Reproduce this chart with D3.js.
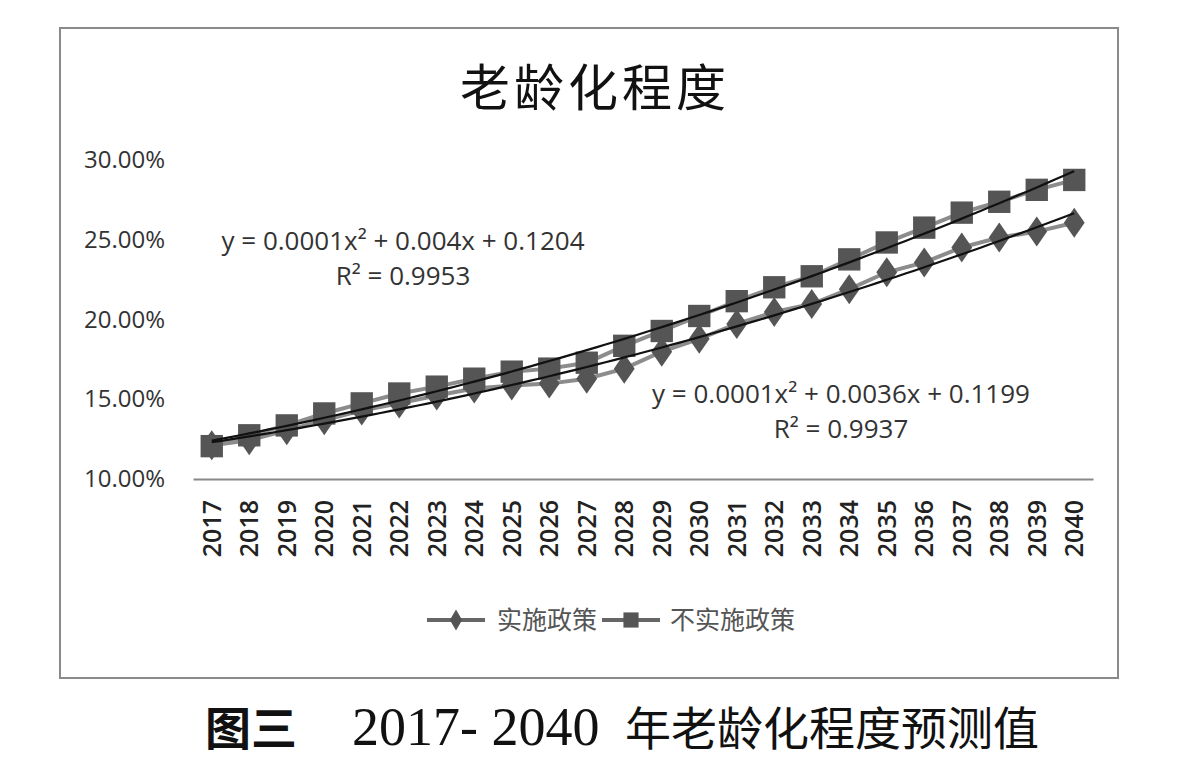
<!DOCTYPE html>
<html>
<head>
<meta charset="utf-8">
<script src="https://cdn.jsdelivr.net/npm/d3@7"></script>
<style>
  body { margin: 0; background: #fff; }
  svg { display: block; }
</style>
</head>
<body>
<div id="chart"></div>
<script>
const width = 1200;
const height = 784;
const margin = { top: 160, right: 107, bottom: 303, left: 193 };

// chart data
const years = ["2017", "2018", "2019", "2020", "2021", "2022", "2023", "2024", "2025", "2026", "2027", "2028",
  "2029", "2030", "2031", "2032", "2033", "2034", "2035", "2036", "2037", "2038", "2039", "2040"];
const withPolicy = [12.12, 12.43, 13.05, 13.68, 14.30, 14.74, 15.23, 15.67, 15.86, 15.98, 16.29, 16.92,
  17.98, 18.79, 19.72, 20.47, 20.97, 21.90, 22.96, 23.58, 24.52, 25.14, 25.51, 26.07];
const withoutPolicy = [12.06, 12.74, 13.36, 14.11, 14.74, 15.36, 15.79, 16.29, 16.73, 16.92, 17.29, 18.35,
  19.28, 20.22, 21.15, 22.02, 22.71, 23.77, 24.83, 25.76, 26.70, 27.38, 28.13, 28.75];
const yTicks = [10, 15, 20, 25, 30];
const seriesNames = ["实施政策", "不实施政策"];
const equations = [
  ["y = 0.0001x² + 0.0036x + 0.1199", "R² = 0.9937"],
  ["y = 0.0001x² + 0.004x + 0.1204", "R² = 0.9953"]
];

const svg = d3.select("#chart").append("svg")
  .attr("width", width)
  .attr("height", height);

// outer frame
svg.append("rect")
  .attr("x", 60).attr("y", 28)
  .attr("width", 1058).attr("height", 650)
  .attr("fill", "#fff")
  .attr("stroke", "#8a8a8a")
  .attr("stroke-width", 2);

const xScale = d3.scaleBand()
  .domain(years)
  .range([margin.left, width - margin.right]);

const yScale = d3.scaleLinear()
  .domain([10, 30])
  .range([height - margin.bottom - 2, margin.top]);

const cx = (d) => xScale(d) + xScale.bandwidth() / 2;

// title
svg.append("text")
  .attr("x", 595).attr("y", 106)
  .attr("text-anchor", "middle")
  .attr("font-family", "'Noto Sans CJK SC', sans-serif")
  .attr("font-size", 50)
  .attr("letter-spacing", 4)
  .attr("fill", "#111")
  .text("老龄化程度");

// y axis labels (no axis line)
svg.append("g")
  .attr("transform", `translate(${margin.left},0)`)
  .call(d3.axisLeft(yScale).tickValues(yTicks).tickSize(0).tickPadding(28)
    .tickFormat((d) => d.toFixed(2) + "%"))
  .call((g) => g.select(".domain").remove())
  .selectAll("text")
  .attr("font-family", "'Open Sans', sans-serif")
  .attr("font-size", 24)
  .attr("fill", "#333");

// x axis
const xAxis = svg.append("g")
  .attr("transform", `translate(0,${yScale(10)})`)
  .call(d3.axisBottom(xScale).tickSize(0).tickPadding(0));
xAxis.select(".domain").attr("stroke", "#888").attr("stroke-width", 2);
xAxis.selectAll("text")
  .attr("font-family", "'Open Sans', sans-serif")
  .attr("font-size", 25)
  .attr("font-weight", 600)
  .attr("fill", "#222")
  .attr("text-anchor", "end")
  .attr("dy", "0.35em")
  .attr("transform", "translate(0,21) rotate(-90)");

// quadratic least-squares fit, like the spreadsheet trendline
function quadFit(vals) {
  let s = [0, 0, 0, 0, 0], t = [0, 0, 0];
  vals.forEach((v, i) => {
    const x = i + 1;
    for (let k = 0; k < 5; k++) s[k] += Math.pow(x, k);
    for (let k = 0; k < 3; k++) t[k] += v * Math.pow(x, k);
  });
  const m = [[s[0], s[1], s[2], t[0]], [s[1], s[2], s[3], t[1]], [s[2], s[3], s[4], t[2]]];
  for (let i = 0; i < 3; i++) {
    for (let j = i + 1; j < 3; j++) {
      const f = m[j][i] / m[i][i];
      for (let k = i; k < 4; k++) m[j][k] -= f * m[i][k];
    }
  }
  const c = [0, 0, 0];
  for (let i = 2; i >= 0; i--) {
    let sum = m[i][3];
    for (let k = i + 1; k < 3; k++) sum -= m[i][k] * c[k];
    c[i] = sum / m[i][i];
  }
  return (x) => c[0] + c[1] * x + c[2] * x * x;
}

const line = d3.line()
  .x((d, i) => cx(years[i]))
  .y((d) => yScale(d));

const series = [
  { name: seriesNames[0], values: withPolicy, symbol: d3.symbolDiamond, size: 260 },
  { name: seriesNames[1], values: withoutPolicy, symbol: d3.symbolSquare, size: 500 }
];

// series lines
series.forEach((s) => {
  svg.append("path")
    .datum(s.values)
    .attr("d", line)
    .attr("fill", "none")
    .attr("stroke", "#8c8c8c")
    .attr("stroke-width", 4);
});

// markers
series.forEach((s) => {
  svg.append("g")
    .selectAll("path")
    .data(s.values)
    .enter()
    .append("path")
    .attr("d", d3.symbol().type(s.symbol).size(s.size))
    .attr("transform", (d, i) => `translate(${cx(years[i])},${yScale(d)})` +
      (s.symbol === d3.symbolDiamond ? " scale(1.2,1)" : ""))
    .attr("fill", "#555");
});

// trendlines
series.forEach((s) => {
  const f = quadFit(s.values);
  const pts = d3.range(1, years.length + 0.01, 0.25);
  svg.append("path")
    .datum(pts)
    .attr("d", d3.line()
      .x((x) => cx(years[0]) + (x - 1) * xScale.step())
      .y((x) => yScale(f(x)))
      .curve(d3.curveBasis))
    .attr("fill", "none")
    .attr("stroke", "#111")
    .attr("stroke-width", 2.2);
});

// equation labels
const eqPos = [[841, 403], [403, 250]];
equations.forEach((eq, i) => {
  const t = svg.append("text")
    .attr("text-anchor", "middle")
    .attr("font-family", "'Open Sans', sans-serif")
    .attr("font-size", 26)
    .attr("fill", "#333");
  t.append("tspan").attr("x", eqPos[i][0]).attr("y", eqPos[i][1]).text(eq[0]);
  t.append("tspan").attr("x", eqPos[i][0]).attr("y", eqPos[i][1] + 35).text(eq[1]);
});

// legend
const legend = svg.append("g").attr("transform", "translate(427,620)");
const legendX = [0, 175];
series.forEach((s, i) => {
  const g = legend.append("g").attr("transform", `translate(${legendX[i]},0)`);
  g.append("line")
    .attr("x1", 0).attr("x2", 58)
    .attr("stroke", "#666").attr("stroke-width", 4);
  g.append("path")
    .attr("d", d3.symbol().type(s.symbol).size(i === 0 ? 130 : 230))
    .attr("transform", "translate(29,0)")
    .attr("fill", "#555");
  g.append("text")
    .attr("x", i === 0 ? 70 : 68)
    .attr("y", 0)
    .attr("dy", "0.35em")
    .attr("font-family", "'Noto Sans CJK SC', serif")
    .attr("font-size", 25)
    .attr("fill", "#555")
    .text(s.name);
});

// caption under the frame
const cap = svg.append("text")
  .attr("y", 745)
  .attr("font-size", 46)
  .attr("fill", "#111");
cap.append("tspan").attr("x", 205)
  .attr("font-family", "'Noto Sans CJK SC', sans-serif")
  .attr("font-weight", 700)
  .text("图三");
cap.append("tspan").attr("x", 352)
  .attr("font-family", "'Liberation Serif', serif")
  .attr("font-size", 54)
  .text("2017- 2040");
cap.append("tspan").attr("x", 625)
  .attr("font-family", "'Noto Sans CJK SC', sans-serif")
  .text("年老龄化程度预测值");
</script>
</body>
</html>
